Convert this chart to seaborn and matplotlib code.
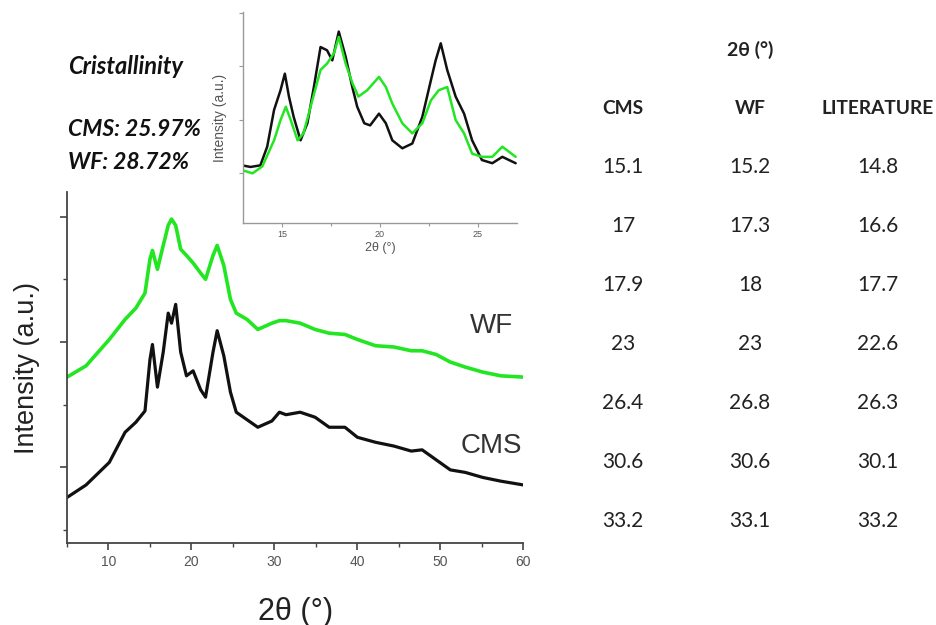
import matplotlib
matplotlib.use("Agg")
import matplotlib.pyplot as plt
import seaborn as sns
from matplotlib.ticker import MultipleLocator

# --- main pattern (2theta, intensity a.u.) ---
two_theta = [5.0, 7.3, 10.1, 12.0, 13.3, 14.4, 15.0, 15.3, 15.9, 16.6, 17.2, 17.6, 18.1,
             18.7, 19.4, 20.2, 21.1, 21.7, 22.6, 23.1, 23.9, 24.7, 25.4, 26.7, 28.0, 29.7,
             30.6, 31.4, 33.1, 34.9, 36.6, 38.5, 40.0, 42.2, 44.4, 46.5, 47.8, 49.5, 51.2,
             53.0, 55.1, 57.3, 60.0]
cms_main = [0.76, 0.86, 1.04, 1.28, 1.36, 1.45, 1.86, 1.98, 1.64, 1.92, 2.23, 2.15, 2.30,
            1.92, 1.73, 1.77, 1.62, 1.56, 1.92, 2.09, 1.89, 1.60, 1.44, 1.38, 1.32, 1.37,
            1.44, 1.42, 1.44, 1.40, 1.32, 1.32, 1.24, 1.20, 1.17, 1.13, 1.14, 1.06, 0.98,
            0.96, 0.92, 0.89, 0.86]
wf_main = [1.72, 1.81, 2.02, 2.18, 2.27, 2.39, 2.66, 2.73, 2.58, 2.77, 2.93, 2.98, 2.93,
           2.74, 2.69, 2.63, 2.55, 2.50, 2.69, 2.77, 2.61, 2.34, 2.23, 2.18, 2.10, 2.15,
           2.17, 2.17, 2.15, 2.10, 2.07, 2.06, 2.02, 1.97, 1.96, 1.93, 1.93, 1.90, 1.84,
           1.80, 1.76, 1.73, 1.72]

# --- inset (zoom 13-27 deg) ---
ins_theta = [12.97, 13.4, 13.9, 14.25, 14.6, 14.93, 15.15, 15.36, 15.6, 15.95, 16.3, 16.63,
             16.97, 17.3, 17.57, 17.9, 18.25, 18.59, 18.84, 19.2, 19.5, 19.95, 20.3, 20.63,
             21.14, 21.65, 22.16, 22.6, 22.84, 23.1, 23.43, 23.86, 24.29, 24.7, 25.2, 25.73,
             26.24, 26.92]
cms_inset = [1.14, 1.11, 1.14, 1.49, 2.18, 2.55, 2.86, 2.43, 2.05, 1.61, 1.93, 2.61,
             3.36, 3.30, 3.11, 3.65, 3.18, 2.61, 2.24, 1.93, 1.89, 2.11, 1.93, 1.61,
             1.46, 1.55, 2.05, 2.74, 3.11, 3.43, 2.93, 2.43, 2.11, 1.61, 1.24, 1.18,
             1.30, 1.18]
wf_theta = [12.97, 13.5, 14.0, 14.6, 14.93, 15.2, 15.45, 15.8, 16.1, 16.55, 16.97, 17.3,
            17.65, 17.9, 18.25, 18.6, 18.9, 19.35, 19.95, 20.3, 20.63, 21.14, 21.65, 22.16,
            22.6, 23.0, 23.43, 23.86, 24.29, 24.7, 25.2, 25.73, 26.24, 26.92]
wf_inset = [1.05, 0.99, 1.12, 1.61, 1.99, 2.24, 1.99, 1.61, 1.74, 2.36, 2.93, 3.05,
            3.24, 3.55, 3.05, 2.68, 2.43, 2.55, 2.80, 2.61, 2.30, 1.93, 1.74, 1.93,
            2.36, 2.55, 2.61, 1.99, 1.74, 1.36, 1.30, 1.30, 1.49, 1.30]

# --- peak table ---
col_heads = ["CMS", "WF", "LITERATURE"]
cms_peaks = ["15.1", "17", "17.9", "23", "26.4", "30.6", "33.2"]
wf_peaks = ["15.2", "17.3", "18", "23", "26.8", "30.6", "33.1"]
lit_peaks = ["14.8", "16.6", "17.7", "22.6", "26.3", "30.1", "33.2"]

cryst_labels = ["CMS: 25.97%", "WF: 28.72%"]

GREEN = "#22e622"
BLACK = "#111111"
GREY = "#555555"

sns.set_style("white")
plt.rcParams["font.family"] = ["Liberation Sans", "DejaVu Sans"]

fig = plt.figure(figsize=(9.37, 6.25), dpi=100)

# main axes
ax = fig.add_axes([0.0715, 0.131, 0.487, 0.562])
sns.lineplot(x=two_theta, y=wf_main, ax=ax, color=GREEN, lw=2.6)
sns.lineplot(x=two_theta, y=cms_main, ax=ax, color=BLACK, lw=2.3)
ax.set_xlim(5, 60)
ax.set_ylim(0.396, 3.197)
ax.xaxis.set_major_locator(MultipleLocator(10))
ax.xaxis.set_minor_locator(MultipleLocator(5))
ax.yaxis.set_major_locator(MultipleLocator(1))
ax.yaxis.set_minor_locator(MultipleLocator(0.5))
ax.set_yticklabels([])
ax.tick_params(axis="both", which="major", direction="out", length=5, width=1.2,
               color="#444444", labelsize=10, labelcolor=GREY, left=True, bottom=True)
ax.tick_params(axis="both", which="minor", direction="out", length=3, width=1.0,
               color="#444444", left=True, bottom=True)
for side in ["top", "right"]:
    ax.spines[side].set_visible(False)
for side in ["left", "bottom"]:
    ax.spines[side].set_color("#444444")
    ax.spines[side].set_linewidth(1.3)
ax.set_xlabel("2θ (°)", fontsize=22, color="#222222", labelpad=20)
ax.set_ylabel("Intensity (a.u.)", fontsize=19.5, color="#222222", labelpad=11)
ax.text(56.2, 2.13, "WF", fontsize=20, color="#333333", ha="center", va="center")
ax.text(56.2, 1.17, "CMS", fontsize=20, color="#333333", ha="center", va="center")

# inset
axi = fig.add_axes([0.259, 0.643, 0.293, 0.338])
axi.patch.set_alpha(0)
sns.lineplot(x=ins_theta, y=cms_inset, ax=axi, color=BLACK, lw=1.8)
sns.lineplot(x=wf_theta, y=wf_inset, ax=axi, color=GREEN, lw=1.8)
axi.set_xlim(13, 27)
axi.set_ylim(0.056, 4.02)
axi.xaxis.set_major_locator(MultipleLocator(5))
axi.xaxis.set_minor_locator(MultipleLocator(2.5))
axi.yaxis.set_major_locator(MultipleLocator(1))
axi.set_yticklabels([])
axi.tick_params(axis="both", which="major", direction="out", length=3, width=0.8,
                color="#999999", labelsize=6.5, labelcolor=GREY, left=True, bottom=True, pad=2)
axi.tick_params(axis="x", which="minor", direction="out", length=2, width=0.8,
                color="#999999", bottom=True)
for side in ["top", "right"]:
    axi.spines[side].set_visible(False)
for side in ["left", "bottom"]:
    axi.spines[side].set_color("#999999")
    axi.spines[side].set_linewidth(1.0)
axi.set_xlabel("2θ (°)", fontsize=9, color=GREY, labelpad=2)
axi.set_ylabel("Intensity (a.u.)", fontsize=10, color=GREY, labelpad=6)

# crystallinity text
bi = dict(family=["Lato", "DejaVu Sans"], style="italic", weight="bold", color="#111111")
fig.text(68 / 937, 1 - 67 / 625, "Cristallinity", fontsize=17, va="center", **bi)
fig.text(68 / 937, 1 - 130 / 625, cryst_labels[0], fontsize=16.5, va="center", **bi)
fig.text(68 / 937, 1 - 163 / 625, cryst_labels[1], fontsize=16.5, va="center", **bi)

# peak position table
tf = dict(family=["Lato", "DejaVu Sans"], color="#222222", ha="center", va="center")
col_x = [623, 750, 878]
fig.text(750 / 937, 1 - 50 / 625, "2θ (°)", fontsize=14, weight="bold", **tf)
for cx, head in zip(col_x, col_heads):
    fig.text(cx / 937, 1 - 108 / 625, head, fontsize=13.8, weight="bold", **tf)
for i, (a, b, c) in enumerate(zip(cms_peaks, wf_peaks, lit_peaks)):
    ry = 167 + i * 59
    for cx, val in zip(col_x, (a, b, c)):
        fig.text(cx / 937, 1 - ry / 625, val, fontsize=15, **tf)

fig.savefig("out.png", dpi=100)
